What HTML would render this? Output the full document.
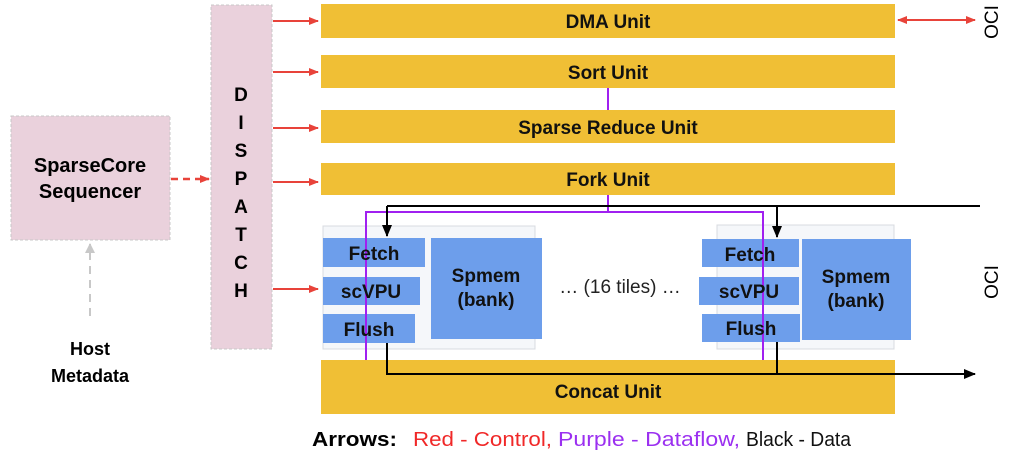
<!DOCTYPE html>
<html><head><style>
body{margin:0;width:1009px;height:451px;background:#fff;overflow:hidden;font-family:"Liberation Sans",sans-serif}
</style></head><body>
<svg width="1009" height="451" xmlns="http://www.w3.org/2000/svg" font-family="Liberation Sans, sans-serif">
<defs>
<marker id="r" markerWidth="10" markerHeight="8" refX="9" refY="4" orient="auto" markerUnits="userSpaceOnUse"><path d="M0,0L10,4L0,8z" fill="#e8433a"/></marker>
<marker id="rs" markerWidth="10" markerHeight="8" refX="1" refY="4" orient="auto" markerUnits="userSpaceOnUse"><path d="M10,0L0,4L10,8z" fill="#e8433a"/></marker>
<marker id="k" markerWidth="12" markerHeight="10" refX="11" refY="5" orient="auto" markerUnits="userSpaceOnUse"><path d="M0,0L12,5L0,10z" fill="#000"/></marker>
<marker id="g" markerWidth="10" markerHeight="10" refX="9" refY="5" orient="auto" markerUnits="userSpaceOnUse"><path d="M0,0L10,5L0,10z" fill="#c8c8c8"/></marker>
</defs>
<g fill="#f0bf35">
<rect x="321" y="4" width="574" height="34"/>
<rect x="321" y="55" width="574" height="33"/>
<rect x="321" y="110" width="574" height="33"/>
<rect x="321" y="163" width="574" height="32"/>
<rect x="321" y="360" width="574" height="54"/>
</g>
<g font-weight="bold" font-size="19" text-anchor="middle" fill="#111">
<text x="608" y="28">DMA Unit</text>
<text x="608" y="79">Sort Unit</text>
<text x="608" y="134">Sparse Reduce Unit</text>
<text x="608" y="186">Fork Unit</text>
<text x="608" y="398">Concat Unit</text>
</g>
<line x1="608" y1="88" x2="608" y2="110" stroke="#a020f0" stroke-width="2"/>
<rect x="11" y="116" width="159" height="124" fill="#ead1dc" stroke="#c8c8c8" stroke-dasharray="3,2"/>
<text x="90" y="172" text-anchor="middle" font-weight="bold" font-size="20">SparseCore</text>
<text x="90" y="198" text-anchor="middle" font-weight="bold" font-size="20">Sequencer</text>
<rect x="211" y="5" width="61" height="344" fill="#ead1dc" stroke="#c8c8c8" stroke-dasharray="3,2"/>
<g font-weight="bold" font-size="19" text-anchor="middle">
<text x="241" y="101">D</text><text x="241" y="129">I</text><text x="241" y="157">S</text><text x="241" y="185">P</text><text x="241" y="213">A</text><text x="241" y="241">T</text><text x="241" y="269">C</text><text x="241" y="297">H</text>
</g>
<line x1="171" y1="179" x2="209" y2="179" stroke="#e8433a" stroke-width="2.5" stroke-dasharray="7,5" marker-end="url(#r)"/>
<line x1="90" y1="316" x2="90" y2="244" stroke="#c8c8c8" stroke-width="2" stroke-dasharray="8,6" marker-end="url(#g)"/>
<text x="90" y="355" text-anchor="middle" font-weight="bold" font-size="18">Host</text>
<text x="90" y="382" text-anchor="middle" font-weight="bold" font-size="18">Metadata</text>
<g stroke="#e8433a" stroke-width="2">
<line x1="273" y1="21" x2="318" y2="21" marker-end="url(#r)"/>
<line x1="273" y1="72" x2="318" y2="72" marker-end="url(#r)"/>
<line x1="273" y1="128" x2="318" y2="128" marker-end="url(#r)"/>
<line x1="273" y1="182" x2="318" y2="182" marker-end="url(#r)"/>
<line x1="273" y1="289" x2="318" y2="289" marker-end="url(#r)"/>
<line x1="898" y1="20" x2="975" y2="20" marker-end="url(#r)" marker-start="url(#rs)"/>
</g>
<text transform="translate(998,22) rotate(-90)" text-anchor="middle" font-size="19">OCI</text>
<text transform="translate(998,282) rotate(-90)" text-anchor="middle" font-size="19">OCI</text>
<rect x="323" y="226" width="212" height="123" fill="#f5f7fa" stroke="#d8dbe0"/>
<rect x="717" y="225" width="177" height="124" fill="#f5f7fa" stroke="#d8dbe0"/>
<g fill="#6d9eeb">
<rect x="323" y="238" width="102" height="29"/><rect x="323" y="277" width="97" height="28"/><rect x="323" y="314" width="92" height="29"/>
<rect x="431" y="238" width="111" height="101"/>
<rect x="702" y="239" width="97" height="28"/><rect x="699" y="277" width="100" height="28"/><rect x="702" y="314" width="98" height="28"/>
<rect x="802" y="239" width="109" height="101"/>
</g>
<g stroke="#a020f0" stroke-width="2" fill="none">
<polyline points="608,195 608,212"/>
<polyline points="366,360 366,212 763,212 763,360"/>
</g>
<g font-weight="bold" font-size="19" text-anchor="middle" fill="#111">
<text x="374" y="260">Fetch</text><text x="371" y="298">scVPU</text><text x="369" y="336">Flush</text>
<text x="486" y="282">Spmem</text><text x="486" y="306">(bank)</text>
<text x="750" y="261">Fetch</text><text x="749" y="298">scVPU</text><text x="751" y="335">Flush</text>
<text x="856" y="283">Spmem</text><text x="856" y="307">(bank)</text>
</g>
<text x="620" y="293" text-anchor="middle" font-size="19" fill="#222">… (16 tiles) …</text>
<g stroke="#000" stroke-width="2" fill="none">
<line x1="387" y1="206" x2="980" y2="206"/>
<line x1="387" y1="206" x2="387" y2="236" marker-end="url(#k)"/>
<line x1="777" y1="206" x2="777" y2="237" marker-end="url(#k)"/>
<polyline points="387,343 387,374 975,374" marker-end="url(#k)"/>
<line x1="777" y1="342" x2="777" y2="374"/>
</g>
<text x="312" y="446" font-size="20" font-weight="bold" textLength="85" lengthAdjust="spacingAndGlyphs">Arrows:</text>
<text x="413" y="446" font-size="20" fill="#f02828" textLength="139" lengthAdjust="spacingAndGlyphs">Red - Control,</text>
<text x="558" y="446" font-size="20" fill="#9b30f0" textLength="182" lengthAdjust="spacingAndGlyphs">Purple - Dataflow,</text>
<text x="746" y="446" font-size="20" fill="#111" textLength="105" lengthAdjust="spacingAndGlyphs">Black - Data</text>
</svg>
</body></html>
